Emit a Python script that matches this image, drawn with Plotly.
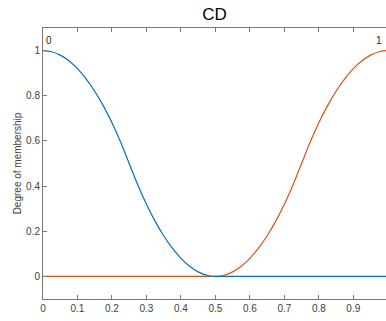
import plotly.graph_objects as go

x_vals = [0.0, 0.025, 0.05, 0.075, 0.1, 0.125, 0.15, 0.175, 0.2, 0.225, 0.25,
          0.275, 0.3, 0.325, 0.35, 0.375, 0.4, 0.425, 0.45, 0.475, 0.5,
          0.525, 0.55, 0.575, 0.6, 0.625, 0.65, 0.675, 0.7, 0.725, 0.75,
          0.775, 0.8, 0.825, 0.85, 0.875, 0.9, 0.925, 0.95, 0.975, 1.0]

mf0_vals = [1.0, 0.995, 0.98, 0.955, 0.92, 0.875, 0.82, 0.755, 0.68, 0.595, 0.5,
            0.405, 0.32, 0.245, 0.18, 0.125, 0.08, 0.045, 0.02, 0.005, 0.0,
            0.0, 0.0, 0.0, 0.0, 0.0, 0.0, 0.0, 0.0, 0.0, 0.0,
            0.0, 0.0, 0.0, 0.0, 0.0, 0.0, 0.0, 0.0, 0.0, 0.0]

mf1_vals = [0.0, 0.0, 0.0, 0.0, 0.0, 0.0, 0.0, 0.0, 0.0, 0.0, 0.0,
            0.0, 0.0, 0.0, 0.0, 0.0, 0.0, 0.0, 0.0, 0.0, 0.0,
            0.005, 0.02, 0.045, 0.08, 0.125, 0.18, 0.245, 0.32, 0.405, 0.5,
            0.595, 0.68, 0.755, 0.82, 0.875, 0.92, 0.955, 0.98, 0.995, 1.0]

mf_labels = ["0", "1"]
label_x = [0.017, 0.975]
label_y = [1.046, 1.046]

x_ticks = [0, 0.1, 0.2, 0.3, 0.4, 0.5, 0.6, 0.7, 0.8, 0.9, 1]
y_ticks = [0, 0.2, 0.4, 0.6, 0.8, 1]

title_text = "CD"
y_title = "Degree of membership"

font_family = "Liberation Sans, Arial, Helvetica, sans-serif"
txt_col = "#404040"
axis_col = "#7a7a7a"

fig = go.Figure()
fig.add_trace(go.Scatter(x=x_vals, y=mf1_vals, mode="lines",
                         line=dict(color="#D95319", width=1.2, shape="spline"),
                         showlegend=False, hoverinfo="skip"))
fig.add_trace(go.Scatter(x=x_vals, y=mf0_vals, mode="lines",
                         line=dict(color="#0072BD", width=1.2, shape="spline"),
                         showlegend=False, hoverinfo="skip"))

for lab, lx, ly in zip(mf_labels, label_x, label_y):
    fig.add_annotation(x=lx, y=ly, text=lab, showarrow=False,
                       xref="x", yref="y", xanchor="center", yanchor="middle",
                       font=dict(family=font_family, size=10, color="#262626"))

fig.update_layout(
    width=386, height=321,
    margin=dict(l=43, r=0, t=28, b=22, pad=0, autoexpand=False),
    paper_bgcolor="white", plot_bgcolor="white",
    font=dict(family=font_family, size=10, color=txt_col),
    title=dict(text=title_text, x=0.5, xref="paper", y=1 - 14 / 321,
               yref="container", xanchor="center", yanchor="middle",
               automargin=False,
               font=dict(family=font_family, size=17, color="#000000")),
)

fig.update_xaxes(range=[0, 343 / 344.8], tickvals=x_ticks,
                 ticktext=[f"{v:g}" for v in x_ticks],
                 showgrid=False, zeroline=False, showline=True,
                 linecolor=axis_col, linewidth=1, mirror="ticks",
                 ticks="inside", ticklen=4, tickcolor=axis_col,
                 automargin=False,
                 tickfont=dict(size=10, color=txt_col))
fig.update_yaxes(range=[-0.1, 1.1], tickvals=y_ticks,
                 ticktext=[f"{v:g}" for v in y_ticks],
                 showgrid=False, zeroline=False, showline=True,
                 linecolor=axis_col, linewidth=1, mirror=False,
                 ticks="inside", ticklen=4, tickcolor=axis_col,
                 automargin=False,
                 tickfont=dict(size=10, color=txt_col),
                 title=dict(text=y_title, standoff=2,
                            font=dict(size=10, color=txt_col)))

fig.write_html("out.html",
               config={"displayModeBar": False, "staticPlot": True},
               post_script="document.body.style.margin='0';"
                           "document.body.style.overflow='hidden';")
